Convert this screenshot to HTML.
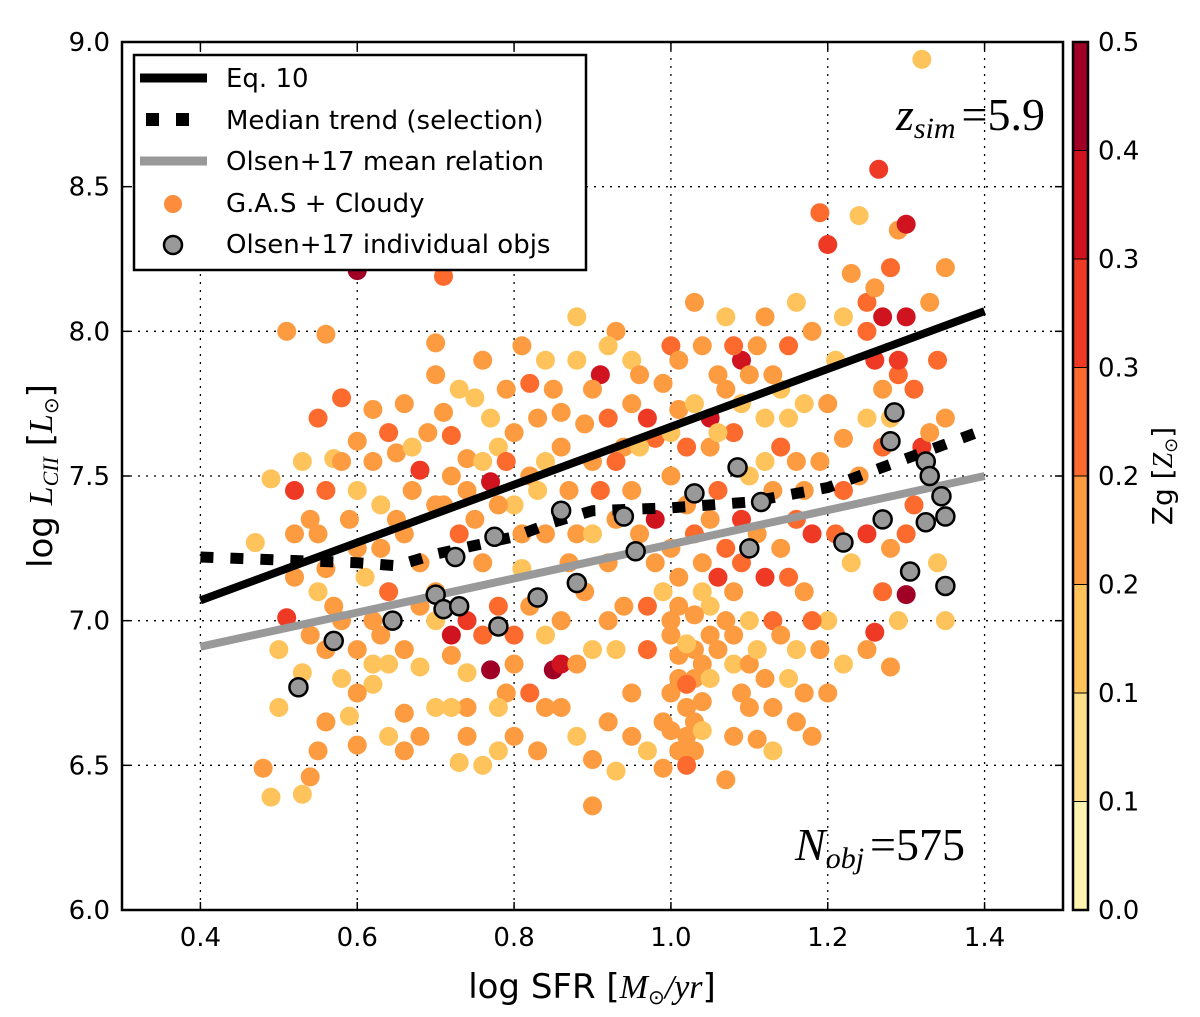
<!DOCTYPE html>
<html><head><meta charset="utf-8"><style>
html,body{margin:0;padding:0;background:#fff;}
svg{display:block;font-family:"DejaVu Sans","Liberation Sans",sans-serif;}
</style></head><body>
<svg id="chart" width="1200" height="1017" xmlns="http://www.w3.org/2000/svg"></svg>
<script>
// ---- data ----
const xTicks=[0.4,0.6,0.8,1.0,1.2,1.4];
const yTicks=[6.0,6.5,7.0,7.5,8.0,8.5,9.0];
const cbTickLabels=["0.0","0.1","0.1","0.2","0.2","0.3","0.3","0.4","0.5"];
const eqX=[0.4,1.4];
const eqY=[7.07,8.07];
const olsenLineX=[0.4,1.4];
const olsenLineY=[6.91,7.50];
const medX=[0.4,0.5,0.6,0.65,0.7,0.8,0.85,0.9,1.0,1.1,1.2,1.3,1.4];
const medY=[7.22,7.21,7.20,7.19,7.23,7.29,7.34,7.38,7.39,7.41,7.46,7.56,7.66];
const olsenX=[0.525,0.57,0.645,0.70,0.71,0.73,0.725,0.775,0.78,0.83,0.86,0.88,0.94,0.955,1.03,1.085,1.10,1.115,1.22,1.27,1.28,1.285,1.305,1.325,1.325,1.33,1.345,1.35,1.35];
const olsenY=[6.77,6.93,7.0,7.09,7.04,7.05,7.22,7.29,6.98,7.08,7.38,7.13,7.36,7.24,7.44,7.53,7.25,7.41,7.27,7.35,7.62,7.72,7.17,7.34,7.55,7.50,7.43,7.36,7.12];
const simPts=[[0.48,6.49,.2],[0.49,6.39,.15],[0.53,6.40,.15],[0.54,6.46,.2],[0.50,6.9,.15],[0.51,7.01,.35],[0.52,7.45,.35],[0.51,8.0,.22],[0.55,7.7,.3],[0.56,7.99,.22],[0.58,7.77,.28],[0.6,8.21,.45],[0.57,7.56,.15],[0.59,7.35,.22],[0.6,7.62,.2],[0.62,7.73,.2],[0.47,7.27,.15],[0.49,7.49,.15],[0.52,7.3,.22],[0.54,7.35,.22],[0.56,7.18,.2],[0.55,7.1,.15],[0.58,7.0,.2],[0.53,6.82,.15],[0.56,6.65,.2],[0.59,6.67,.15],[0.6,6.57,.2],[0.62,6.85,.15],[0.63,6.95,.22],[0.64,7.1,.3],[0.66,7.3,.22],[0.67,7.45,.2],[0.68,7.52,.35],[0.7,7.4,.2],[0.7,7.1,.2],[0.68,6.84,.15],[0.66,6.68,.2],[0.7,6.7,.15],[0.72,6.88,.22],[0.73,6.51,.15],[0.74,6.6,.2],[0.76,6.5,.15],[0.71,8.19,.28],[0.70,7.96,.22],[0.72,7.64,.3],[0.74,7.56,.2],[0.75,7.77,.15],[0.77,7.48,.42],[0.76,7.2,.22],[0.78,7.05,.3],[0.77,6.83,.45],[0.79,6.75,.2],[0.8,6.95,.28],[0.81,7.18,.15],[0.82,7.5,.22],[0.83,7.7,.2],[0.84,7.9,.15],[0.85,7.8,.2],[0.86,7.6,.22],[0.87,7.45,.2],[0.85,6.83,.45],[0.86,6.85,.4],[0.88,6.6,.15],[0.9,6.52,.2],[0.9,6.36,.2],[0.83,6.55,.2],[0.91,7.85,.4],[0.92,7.7,.3],[0.93,8.0,.2],[0.95,7.9,.15],[0.94,7.6,.22],[0.96,7.3,.2],[0.97,7.05,.3],[0.97,6.9,.3],[0.95,6.75,.2],[0.93,6.48,.15],[0.99,6.49,.2],[0.98,7.63,.3],[1.0,7.95,.3],[1.01,7.73,.2],[1.02,7.4,.22],[1.0,7.0,.2],[1.01,6.8,.2],[1.02,6.7,.2],[1.02,6.6,.2],[1.03,6.55,.2],[1.04,6.85,.2],[1.05,7.05,.15],[1.04,7.2,.2],[1.05,7.6,.22],[1.06,7.85,.2],[1.07,8.05,.15],[1.08,7.65,.3],[1.09,7.9,.42],[1.10,7.5,.15],[1.1,7.0,.15],[1.08,6.95,.2],[1.07,6.45,.2],[1.1,6.7,.22],[1.11,6.59,.2],[1.12,7.15,.35],[1.13,7.0,.3],[1.14,7.8,.15],[1.15,7.95,.28],[1.16,7.55,.22],[1.17,7.1,.22],[1.18,6.6,.2],[1.19,8.41,.3],[1.2,8.3,.35],[1.21,7.9,.15],[1.21,7.3,.3],[1.22,7.63,.2],[1.23,8.2,.22],[1.24,8.4,.15],[1.25,8.0,.3],[1.26,7.9,.35],[1.265,8.56,.35],[1.27,8.05,.4],[1.28,8.22,.3],[1.29,8.35,.22],[1.3,8.37,.4],[1.3,8.05,.4],[1.31,7.8,.3],[1.29,7.85,.3],[1.3,7.09,.45],[1.26,6.96,.35],[1.28,6.84,.2],[1.32,8.94,.15],[1.33,8.1,.2],[1.34,7.9,.28],[1.35,8.22,.2],[1.35,7.7,.2],[1.34,7.2,.15],[1.35,7.0,.15],[1.29,7.0,.15],[1.31,7.4,.3],[1.23,7.2,.15],[1.2,7.0,.15],[1.19,6.9,.2],[1.15,6.8,.15],[1.13,6.7,.2],[1.16,7.35,.3],[1.24,7.5,.22],[1.27,7.6,.3],[1.09,7.35,.35],[1.06,7.45,.3],[1.0,7.5,.22],[0.98,7.2,.2],[0.92,7.2,.22],[0.88,7.3,.2],[0.8,7.4,.15],[0.75,7.35,.2],[0.72,7.5,.2],[0.65,7.58,.22],[0.63,7.4,.15],[0.6,7.25,.2],[0.57,7.05,.22],[0.62,6.78,.15],[0.66,6.55,.22],[0.74,6.82,.15],[0.82,6.75,.3],[0.86,7.0,.2],[0.89,7.1,.2],[0.93,6.9,.15],[0.99,6.65,.2],[1.03,6.9,.2],[1.04,7.1,.15],[1.0,6.75,.2],[1.05,6.95,.2],[0.96,7.6,.15],[0.9,7.55,.2],[0.78,7.6,.15],[0.68,7.2,.2],[0.64,7.65,.3],[0.7,7.85,.2],[0.81,7.95,.22],[0.88,8.05,.15],[1.03,8.1,.22],[1.12,8.05,.2],[1.17,7.75,.15],[1.25,7.7,.15],[1.13,7.45,.22],[1.07,7.25,.3],[0.52,7.15,.22],[0.5,6.7,.15],[0.55,6.55,.2],
[0.71,7.72,.2],[0.73,7.8,.15],[0.76,7.9,.2],[0.77,7.7,.15],[0.79,7.8,.22],[0.8,7.65,.2],[0.82,7.82,.3],[0.84,7.55,.15],[0.86,7.72,.22],[0.88,7.9,.15],[0.89,7.68,.2],[0.9,7.8,.22],[0.92,7.95,.15],[0.93,7.55,.3],[0.95,7.75,.2],[0.96,7.85,.22],[0.97,7.7,.35],[0.99,7.82,.2],[1.0,7.65,.15],[1.01,7.9,.22],[1.02,7.6,.3],[1.03,7.75,.15],[1.04,7.95,.2],[1.05,7.7,.4],[1.06,7.65,.15],[1.07,7.8,.22],[1.08,7.95,.3],[1.09,7.75,.15],[1.1,7.85,.22],[1.11,7.95,.2],[1.12,7.7,.15],[1.13,7.85,.22],[1.14,7.6,.3],[1.15,7.7,.15],[0.74,7.45,.22],[0.76,7.55,.15],[0.78,7.4,.2],[0.79,7.55,.3],[0.81,7.3,.22],[0.83,7.45,.15],[0.84,7.3,.2],[0.87,7.2,.22],[0.9,7.3,.15],[0.91,7.45,.3],[0.93,7.35,.2],[0.95,7.45,.22],[0.98,7.35,.4],[0.99,7.1,.15],[1.0,7.25,.22],[1.01,7.15,.2],[1.03,7.3,.3],[1.05,7.35,.22],[1.06,7.15,.35],[1.08,7.1,.2],[1.09,7.2,.3],[1.11,7.3,.22],[1.12,7.55,.15],[1.14,7.25,.2],[1.15,7.15,.3],[1.17,7.45,.22],[1.18,7.3,.35],[1.19,7.55,.2],[1.0,6.95,.2],[1.01,6.88,.22],[1.02,6.92,.15],[1.03,6.8,.22],[1.0,6.62,.2],[1.01,6.55,.22],[1.02,6.5,.3],[1.03,6.65,.2],[1.04,6.62,.15],[1.02,6.78,.28],[1.01,7.05,.22],[1.03,7.02,.2],[1.04,6.72,.22],[1.05,6.8,.15],[1.06,6.9,.2],[1.07,7.0,.22],[1.08,6.85,.15],[1.09,6.75,.2],[1.1,6.85,.22],[1.11,6.9,.15],[1.12,6.8,.2],[1.14,6.95,.22],[1.16,6.9,.15],[1.17,6.75,.2],[1.18,7.0,.3],[0.94,7.05,.2],[0.92,7.0,.22],[0.9,6.9,.15],[0.88,6.85,.2],[0.86,6.7,.22],[0.84,6.95,.15],[0.82,7.05,.2],[0.8,6.85,.22],[0.78,6.7,.15],[0.76,6.95,.3],[0.74,7.0,.35],[0.72,6.95,.42],[0.7,7.0,.15],[0.68,7.05,.22],[0.66,6.9,.2],[0.64,6.85,.15],[0.62,7.0,.2],[0.6,6.9,.22],[0.58,6.8,.15],[0.56,6.9,.2],[0.54,6.95,.22],[0.61,7.15,.15],[0.63,7.25,.22],[0.65,7.35,.2],[0.67,7.6,.15],[0.69,7.65,.22],[0.71,7.4,.2],[0.73,7.3,.3],[0.66,7.75,.22],[0.62,7.55,.2],[0.6,7.45,.15],[0.58,7.55,.22],[0.56,7.45,.3],[0.55,7.3,.2],[0.53,7.55,.15],[0.74,6.7,.2],[0.78,6.55,.15],[0.8,6.6,.22],[0.84,6.7,.2],[0.72,6.7,.15],[0.68,6.6,.2],[0.64,6.6,.15],[0.6,6.75,.22],[0.95,6.6,.2],[0.97,6.55,.15],[0.92,6.65,.22],[1.08,6.6,.2],[1.13,6.55,.15],[1.16,6.65,.22],[1.2,6.75,.2],[1.22,6.85,.15],[1.25,6.9,.22],[1.27,7.1,.3],[1.25,7.3,.35],[1.28,7.25,.22],[1.3,7.3,.3],[1.32,7.6,.35],[1.33,7.65,.22],[1.22,7.45,.3],[1.2,7.75,.22],[1.22,8.05,.15],[1.18,8.0,.2],[1.16,8.1,.15],[1.27,7.8,.22],[1.25,8.1,.3],[1.26,8.15,.22],[1.29,7.9,.35],[1.28,7.7,.15]];

// ---- geometry ----
const L=122,R=1063,T=42,B=910;
const xMin=0.3,xMax=1.5,yMin=6.0,yMax=9.0;
const sx=v=>L+(v-xMin)/(xMax-xMin)*(R-L);
const sy=v=>B-(v-yMin)/(yMax-yMin)*(B-T);
const bands=["#fff3b0","#fee08a","#fec35a","#fd9b41","#fc6a2d","#ee3a24","#d0141f","#a00026"];
function cmap(z){let i=Math.floor(Math.max(0,Math.min(0.4999,z))/0.5*bands.length);return bands[i];}
const NS="http://www.w3.org/2000/svg";
const svg=document.getElementById("chart");
function mk(tag,attrs,parent){const e=document.createElementNS(NS,tag);for(const k in attrs)e.setAttribute(k,attrs[k]);(parent||svg).appendChild(e);return e;}

xTicks.forEach(v=>{const g=mk("line",{x1:sx(v),x2:sx(v),y1:T,y2:B,stroke:"#000","stroke-width":1.3,"stroke-dasharray":"2,6"});

});
yTicks.forEach(v=>{const g=mk("line",{x1:L,x2:R,y1:sy(v),y2:sy(v),stroke:"#000","stroke-width":1.3,"stroke-dasharray":"2,6"});

});

simPts.forEach(p=>{const c=mk("circle",{cx:sx(p[0]),cy:sy(p[1]),r:9.5,fill:cmap(p[2])});

});

function poly(xs,ys,attrs,name){const pts=xs.map((x,i)=>sx(x)+","+sy(ys[i])).join(" ");const e=mk("polyline",Object.assign({points:pts,fill:"none"},attrs));

}
poly(olsenLineX,olsenLineY,{stroke:"#999","stroke-width":8},"olsen-mean-line");
poly(medX,medY,{stroke:"#000","stroke-width":11,"stroke-dasharray":"13,17"},"median-trend-line");
poly(eqX,eqY,{stroke:"#000","stroke-width":8},"eq10-line");

olsenX.forEach((x,i)=>{const c=mk("circle",{cx:sx(x),cy:sy(olsenY[i]),r:9,fill:"#999",stroke:"#000","stroke-width":2.5});

});

const fr=mk("rect",{x:L,y:T,width:R-L,height:B-T,fill:"none",stroke:"#000","stroke-width":2.5});



xTicks.forEach(v=>{mk("line",{x1:sx(v),x2:sx(v),y1:B,y2:B-8,stroke:"#000","stroke-width":1.5});mk("line",{x1:sx(v),x2:sx(v),y1:T,y2:T+8,stroke:"#000","stroke-width":1.5});
const t=mk("text",{x:sx(v),y:B+36,"text-anchor":"middle","font-size":26});t.textContent=v.toFixed(1);

});
yTicks.forEach(v=>{mk("line",{x1:L,x2:L+8,y1:sy(v),y2:sy(v),stroke:"#000","stroke-width":1.5});mk("line",{x1:R,x2:R-8,y1:sy(v),y2:sy(v),stroke:"#000","stroke-width":1.5});
const t=mk("text",{x:L-12,y:sy(v)+9,"text-anchor":"end","font-size":26});t.textContent=v.toFixed(1);

});

// colorbar (discrete)
const cbX=1073,cbW=15;
bands.forEach((c,i)=>{const h=(B-T)/bands.length;const r=mk("rect",{x:cbX,y:B-(i+1)*h,width:cbW,height:h,fill:c,stroke:"#000","stroke-width":1});

});
const cbf=mk("rect",{x:cbX,y:T,width:cbW,height:B-T,fill:"none",stroke:"#000","stroke-width":2.5});


cbTickLabels.forEach((s,i)=>{const y=B-i*(B-T)/(cbTickLabels.length-1);
const t=mk("text",{x:1098,y:y+9,"font-size":26});t.textContent=s;

});
</script>
<svg width="1200" height="1017" style="position:absolute;left:0;top:0" xmlns="http://www.w3.org/2000/svg">
 <g font-family="DejaVu Sans, Liberation Sans, sans-serif">
  <text x="592" y="998" text-anchor="middle" font-size="34">log SFR [<tspan font-family="Liberation Serif" font-style="italic">M</tspan><tspan font-size="20" dy="6">⊙</tspan><tspan dy="-6" font-family="Liberation Serif" font-style="italic">/yr</tspan>]</text>
  <text transform="translate(52,476) rotate(-90)" text-anchor="middle" font-size="34">log <tspan font-family="Liberation Serif" font-style="italic">L</tspan><tspan font-family="Liberation Serif" font-style="italic" font-size="22" dy="6">CII</tspan><tspan dy="-6"> [</tspan><tspan font-family="Liberation Serif" font-style="italic">L</tspan><tspan font-size="20" dy="6">⊙</tspan><tspan dy="-6">]</tspan></text>
  <text transform="translate(1172,476) rotate(-90)" text-anchor="middle" font-size="28">Zg [<tspan font-family="Liberation Serif" font-style="italic">Z</tspan><tspan font-size="18" dy="5">⊙</tspan><tspan dy="-5">]</tspan></text>
  <text x="1045" y="130" text-anchor="end" font-family="Liberation Serif" font-size="46"><tspan font-style="italic">z</tspan><tspan font-style="italic" font-size="30" dy="8">sim</tspan><tspan dy="-8" dx="6">=5.9</tspan></text>
  <text x="965" y="860" text-anchor="end" font-family="Liberation Serif" font-size="46"><tspan font-style="italic">N</tspan><tspan font-style="italic" font-size="30" dy="8">obj</tspan><tspan dy="-8" dx="6">=575</tspan></text>
  <g>
   <rect x="134" y="55" width="452" height="215" fill="#fff" stroke="#000" stroke-width="2.5"/>
   <line x1="140" x2="207" y1="78" y2="78" stroke="#000" stroke-width="9"/>
   <text x="226" y="87" font-size="26">Eq. 10</text>
   <rect x="146" y="113" width="13" height="13" fill="#000"/><rect x="176" y="113" width="13" height="13" fill="#000"/>
   <text x="226" y="129" font-size="26">Median trend (selection)</text>
   <line x1="140" x2="207" y1="161" y2="161" stroke="#999" stroke-width="9"/>
   <text x="226" y="170" font-size="26">Olsen+17 mean relation</text>
   <circle cx="173" cy="204" r="9" fill="#fd8d3c"/>
   <text x="226" y="212" font-size="26">G.A.S + Cloudy</text>
   <circle cx="173" cy="245" r="9" fill="#999" stroke="#000" stroke-width="2.5"/>
   <text x="226" y="253" font-size="26">Olsen+17 individual objs</text>
  </g>
 </g>
</svg>
</body></html>
